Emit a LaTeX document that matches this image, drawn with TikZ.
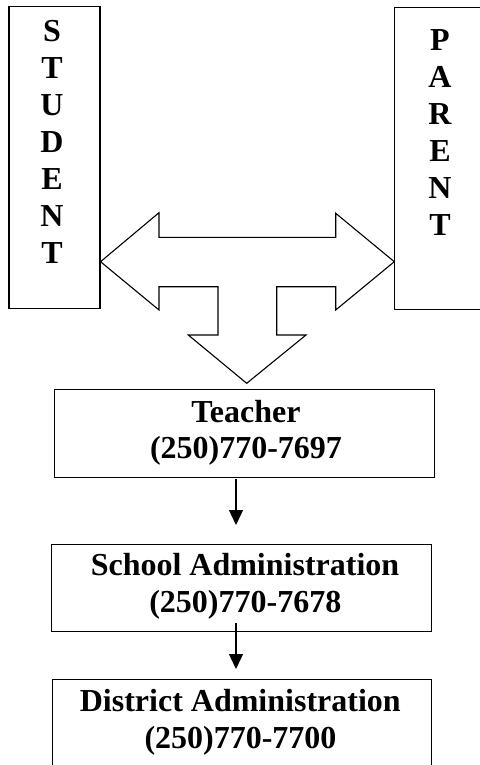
\documentclass[tikz,border=0pt]{standalone}
\usepackage{fontspec}
\setmainfont{Liberation Serif}
\usetikzlibrary{arrows.meta}
\begin{document}
\begin{tikzpicture}[x=1pt,y=-1pt,
  box/.style={draw,line width=1.1pt,inner sep=0pt},
  lbl/.style={font=\bfseries\fontsize{32}{36}\selectfont,inner sep=0pt,anchor=base},
  vlbl/.style={font=\bfseries\fontsize{32}{37}\selectfont,inner sep=0pt,align=center,anchor=north},
  flow/.style={line width=1.3pt,-{Triangle[width=14pt,length=15pt]}},
  bigarrow/.style={draw,line width=1.1pt,line join=miter}]
\useasboundingbox (0,0) rectangle (479,765);
% side boxes
\node[box,minimum width=91pt,minimum height=302pt] (student) at (54.5,157.8) {};
\node[box,minimum width=100pt,minimum height=302pt,anchor=north west] (parent) at (394.3,6.7) {};
\node[vlbl] (studenttxt) at (52,20.5) {S\\T\\U\\D\\E\\N\\T};
\node[vlbl] (parenttxt) at (440,29) {P\\A\\R\\E\\N\\T};
% three-way arrow
\draw[bigarrow] (student.east |- 0,261.7) -- (159,212.7) -- (159,237.3) -- (335.7,237.3) -- (335.7,213.3)
  -- (parent.west |- 0,261.7) -- (335.7,310) -- (335.7,286.7) -- (276.7,286.7) -- (276.7,335) -- (306,335)
  -- (246.7,383.3) -- (188.3,335) -- (218,335) -- (218,286.7) -- (159,286.7) -- (159,310) -- cycle;
% boxes
\node[box,minimum width=380pt,minimum height=87.7pt,anchor=north west] (teacher) at (54.3,389) {};
\node[lbl] (t1) at (246,422) {Teacher};
\node[lbl] (t2) at (246,458) {(250)770-7697};
\node[box,minimum width=379.7pt,minimum height=87.3pt,anchor=north west] (school) at (51.3,543.7) {};
\node[lbl] (s1) at (245,575) {School Administration};
\node[lbl] (s2) at (245.3,612) {(250)770-7678};
\node[box,minimum width=379.3pt,minimum height=120pt,anchor=north west] (district) at (51.7,679) {};
\node[lbl] (d1) at (240.3,711) {District Administration};
\node[lbl] (d2) at (240.5,748) {(250)770-7700};
% small arrows
\coordinate (a1s) at (236,479);
\coordinate (a1e) at (236,525);
\coordinate (a2s) at (236,623);
\coordinate (a2e) at (236,669);
\draw[flow] (a1s) -- (a1e);
\draw[flow] (a2s) -- (a2e);
\end{tikzpicture}
\end{document}
